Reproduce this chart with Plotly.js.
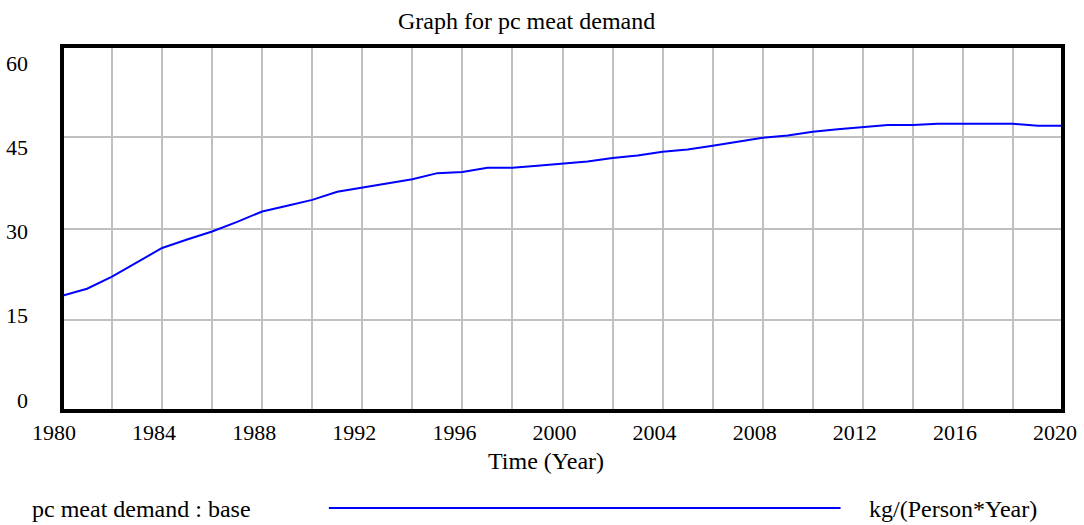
<!DOCTYPE html>
<html>
<head>
<meta charset="utf-8">
<script src="https://cdn.plot.ly/plotly-3.0.1.min.js"></script>
<style>html,body{margin:0;padding:0;background:#fff;}#chart{width:1084px;height:525px;}</style>
</head>
<body>
<div id="chart"></div>
<script>
const years = [1980,1981,1982,1983,1984,1985,1986,1987,1988,1989,1990,1991,1992,1993,1994,1995,1996,1997,1998,1999,2000,2001,2002,2003,2004,2005,2006,2007,2008,2009,2010,2011,2012,2013,2014,2015,2016,2017,2018,2019,2020];
const pcMeatDemand = [18.95,20.1,22.1,24.5,26.8,28.2,29.5,31.1,32.8,33.75,34.7,36.05,36.75,37.4,38.1,39.1,39.3,40.0,40.0,40.3,40.7,41.0,41.6,42.0,42.6,43.0,43.6,44.3,44.9,45.3,45.9,46.3,46.6,47.0,47.0,47.2,47.2,47.2,47.2,46.9,46.9];
const xGridYears = [1980,1982,1984,1986,1988,1990,1992,1994,1996,1998,2000,2002,2004,2006,2008,2010,2012,2014,2016,2018,2020];
const xTickLabels = ["1980","1984","1988","1992","1996","2000","2004","2008","2012","2016","2020"];
const yTickVals = [0,15,30,45,60];
const yTickLabels = ["0","15","30","45","60"];
const chartTitle = "Graph for pc meat demand";
const xAxisTitle = "Time (Year)";
const seriesName = "pc meat demand : base";
const unitsLabel = "kg/(Person*Year)";

const FONT = "Liberation Serif, Times New Roman, serif";
const FS = 22;
const FS_TEXT = 24;

const traces = [
  {x: years, y: pcMeatDemand, type: 'scatter', mode: 'lines',
   line: {color: '#0000ff', width: 2}, hoverinfo: 'skip', showlegend: false},
  {x: [], y: [], yaxis: 'y2', type: 'scatter', mode: 'lines', showlegend: false, hoverinfo: 'skip'}
];

const layout = {
  width: 1084, height: 525,
  margin: {l: 62, r: 20.5, t: 46, b: 114, pad: 0},
  paper_bgcolor: '#ffffff', plot_bgcolor: '#ffffff',
  font: {family: FONT, size: FS, color: '#000000'},
  showlegend: false,
  xaxis: {
    range: [1980, 2020], tickmode: 'array', tickvals: xGridYears,
    ticktext: xGridYears.map(v => xTickLabels.includes(String(v)) ? String(v) : ''),
    showgrid: true, gridcolor: '#c0c0c0', gridwidth: 2, zeroline: false,
    showline: false, ticks: '', ticklabelshift: -8, ticklabelstandoff: 6,
    tickfont: {family: FONT, size: FS, color: '#000'}, fixedrange: true
  },
  yaxis: {
    range: [0, 60], tickmode: 'array', tickvals: yTickVals, showticklabels: false,
    showgrid: true, gridcolor: '#c0c0c0', gridwidth: 2, zeroline: false,
    showline: false, ticks: '', fixedrange: true
  },
  yaxis2: {
    overlaying: 'y', side: 'left', range: [-1.96, 63.03], tickmode: 'array',
    tickvals: yTickVals, ticktext: yTickLabels, showgrid: false, zeroline: false,
    showline: false, ticks: '', ticklabelstandoff: 33,
    tickfont: {family: FONT, size: FS, color: '#000'}, fixedrange: true
  },
  shapes: [
    {type: 'rect', xref: 'paper', yref: 'paper', x0: 0, x1: 1, y0: 0, y1: 1,
     line: {color: '#000000', width: 4}, layer: 'above'},
    {type: 'line', xref: 'paper', yref: 'paper', x0: 0.2666, x1: 0.7778, y0: -0.2658, y1: -0.2658,
     line: {color: '#0000ff', width: 2}}
  ],
  annotations: [
    {text: chartTitle, xref: 'paper', yref: 'paper', x: 0.4638, y: 1.0685,
     xanchor: 'center', yanchor: 'middle', showarrow: false, font: {family: FONT, size: FS_TEXT, color: '#000'}},
    {text: xAxisTitle, xref: 'paper', yref: 'paper', x: 0.4833, y: -0.136,
     xanchor: 'center', yanchor: 'middle', showarrow: false, font: {family: FONT, size: FS_TEXT, color: '#000'}},
    {text: seriesName, xref: 'paper', yref: 'paper', x: -0.0319, y: -0.2685,
     xanchor: 'left', yanchor: 'middle', showarrow: false, font: {family: FONT, size: FS_TEXT, color: '#000'}},
    {text: unitsLabel, xref: 'paper', yref: 'paper', x: 0.8043, y: -0.2685,
     xanchor: 'left', yanchor: 'middle', showarrow: false, font: {family: FONT, size: FS_TEXT, color: '#000'}}
  ]
};

Plotly.newPlot('chart', traces, layout, {displayModeBar: false, staticPlot: true});
</script>
</body>
</html>
